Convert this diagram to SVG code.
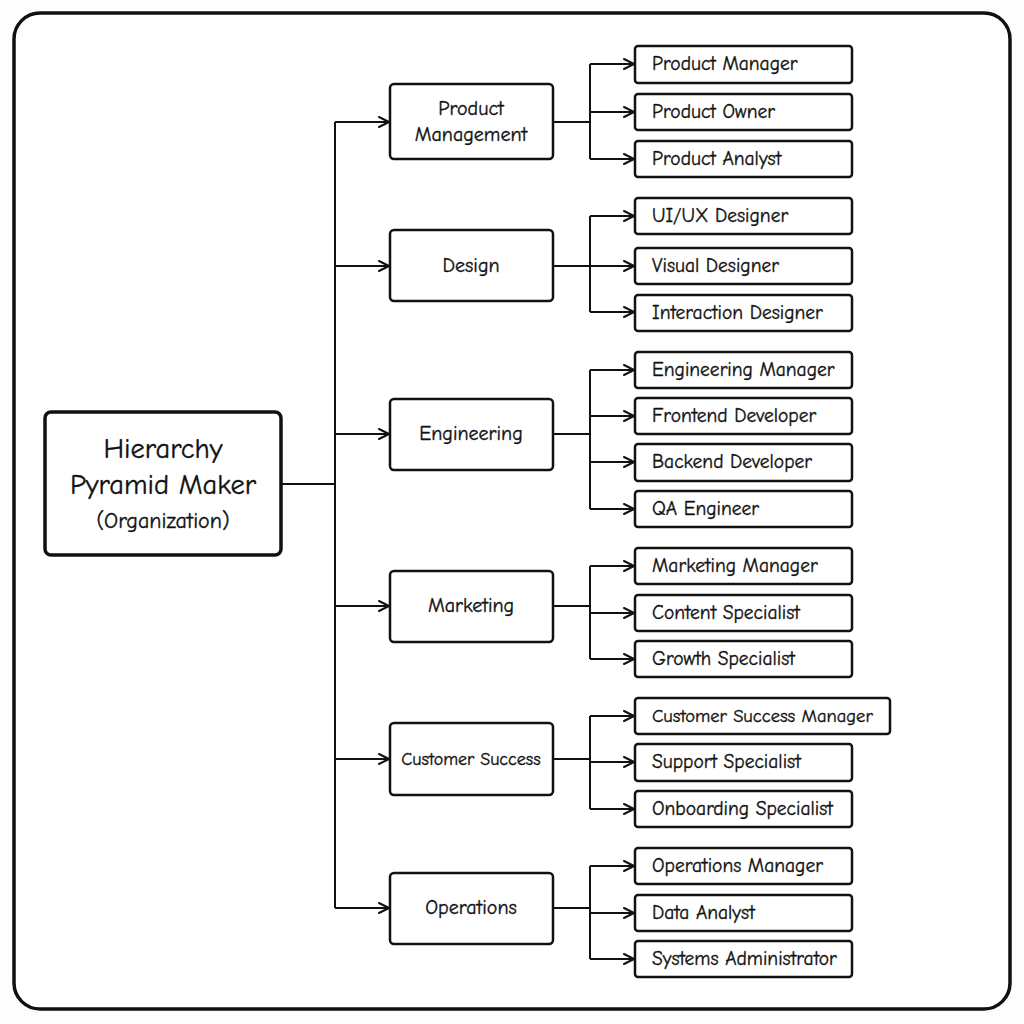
<svg xmlns="http://www.w3.org/2000/svg" width="1024" height="1024" viewBox="0 0 1024 1024">
<defs>
<marker id="arr" viewBox="0 0 12 12" refX="11" refY="6" markerWidth="12" markerHeight="12" markerUnits="userSpaceOnUse" orient="auto">
<path d="M1,1 L11,6 L1,11" fill="none" stroke="#111" stroke-width="2" stroke-linecap="round" stroke-linejoin="round"/>
</marker>
</defs>
<style>
.frame{fill:#fff;stroke:#111;stroke-width:3.5}
.box{fill:#fff;stroke:#111;stroke-width:2.5}
.root{fill:#fff;stroke:#111;stroke-width:3.5}
.ln{fill:none;stroke:#111;stroke-width:2}
.ar{fill:none;stroke:#111;stroke-width:2;marker-end:url(#arr)}
text{font-family:"Comic Neue","Noto Sans","Liberation Sans",sans-serif;fill:#111;stroke:#111;stroke-width:0.35}
.t{font-size:19.5px}
.d{font-size:20px;text-anchor:middle}
.r{font-size:28.5px;text-anchor:middle}
.rs{font-size:22px;text-anchor:middle}
</style>
<rect x="0" y="0" width="1024" height="1024" fill="#fdfdfd"/>
<rect class="frame" x="14" y="13" width="996" height="996" rx="26"/>

<g id="connectors">
<path class="ln" d="M281,484 H335 M335,122 V908"/>
<path class="ar" d="M335,122 H389"/>
<path class="ar" d="M335,266 H389"/>
<path class="ar" d="M335,434 H389"/>
<path class="ar" d="M335,606 H389"/>
<path class="ar" d="M335,759 H389"/>
<path class="ar" d="M335,908 H389"/>

<path class="ln" d="M553,122 H590 M590,64 V159"/>
<path class="ar" d="M590,64 H634"/><path class="ar" d="M590,112 H634"/><path class="ar" d="M590,159 H634"/>
<path class="ln" d="M553,266 H590 M590,216 V312"/>
<path class="ar" d="M590,216 H634"/><path class="ar" d="M590,266 H634"/><path class="ar" d="M590,312 H634"/>
<path class="ln" d="M553,434 H590 M590,370 V509"/>
<path class="ar" d="M590,370 H634"/><path class="ar" d="M590,416 H634"/><path class="ar" d="M590,462 H634"/><path class="ar" d="M590,509 H634"/>
<path class="ln" d="M553,606 H590 M590,566 V659"/>
<path class="ar" d="M590,566 H634"/><path class="ar" d="M590,613 H634"/><path class="ar" d="M590,659 H634"/>
<path class="ln" d="M553,759 H590 M590,716 V809"/>
<path class="ar" d="M590,716 H634"/><path class="ar" d="M590,762 H634"/><path class="ar" d="M590,809 H634"/>
<path class="ln" d="M553,908 H590 M590,866 V959"/>
<path class="ar" d="M590,866 H634"/><path class="ar" d="M590,913 H634"/><path class="ar" d="M590,959 H634"/>
</g>

<g id="root">
<rect class="root" x="45" y="412" width="236" height="143" rx="6"/>
<text class="r" x="163" y="458">Hierarchy</text>
<text class="r" x="163" y="494">Pyramid Maker</text>
<text class="rs" x="163" y="528">(Organization)</text>
</g>

<g id="dept-product"><rect class="box" x="390" y="84" width="163" height="75" rx="4"/><text class="d" x="471" y="115">Product</text><text class="d" x="471" y="141">Management</text></g>
<g id="dept-design"><rect class="box" x="390" y="230" width="163" height="71" rx="4"/><text class="d" x="471" y="272">Design</text></g>
<g id="dept-engineering"><rect class="box" x="390" y="399" width="163" height="71" rx="4"/><text class="d" x="471" y="440">Engineering</text></g>
<g id="dept-marketing"><rect class="box" x="390" y="571" width="163" height="71" rx="4"/><text class="d" x="471" y="612">Marketing</text></g>
<g id="dept-cs"><rect class="box" x="390" y="723" width="163" height="72" rx="4"/><text class="d" x="471" y="765" style="font-size:18px">Customer Success</text></g>
<g id="dept-operations"><rect class="box" x="390" y="873" width="163" height="71" rx="4"/><text class="d" x="471" y="914">Operations</text></g>

<g id="c1"><rect class="box" x="635" y="46" width="217" height="37" rx="3"/><text class="t" x="652" y="70">Product Manager</text></g>
<g id="c2"><rect class="box" x="635" y="94" width="217" height="36" rx="3"/><text class="t" x="652" y="118">Product Owner</text></g>
<g id="c3"><rect class="box" x="635" y="141" width="217" height="36" rx="3"/><text class="t" x="652" y="165">Product Analyst</text></g>
<g id="c4"><rect class="box" x="635" y="198" width="217" height="36" rx="3"/><text class="t" x="652" y="222">UI/UX Designer</text></g>
<g id="c5"><rect class="box" x="635" y="248" width="217" height="36" rx="3"/><text class="t" x="652" y="272">Visual Designer</text></g>
<g id="c6"><rect class="box" x="635" y="295" width="217" height="36" rx="3"/><text class="t" x="652" y="319">Interaction Designer</text></g>
<g id="c7"><rect class="box" x="635" y="352" width="217" height="36" rx="3"/><text class="t" x="652" y="376">Engineering Manager</text></g>
<g id="c8"><rect class="box" x="635" y="398" width="217" height="36" rx="3"/><text class="t" x="652" y="422">Frontend Developer</text></g>
<g id="c9"><rect class="box" x="635" y="444" width="217" height="37" rx="3"/><text class="t" x="652" y="468">Backend Developer</text></g>
<g id="c10"><rect class="box" x="635" y="491" width="217" height="36" rx="3"/><text class="t" x="652" y="515">QA Engineer</text></g>
<g id="c11"><rect class="box" x="635" y="548" width="217" height="36" rx="3"/><text class="t" x="652" y="572">Marketing Manager</text></g>
<g id="c12"><rect class="box" x="635" y="595" width="217" height="36" rx="3"/><text class="t" x="652" y="619">Content Specialist</text></g>
<g id="c13"><rect class="box" x="635" y="641" width="217" height="36" rx="3"/><text class="t" x="652" y="665">Growth Specialist</text></g>
<g id="c14"><rect class="box" x="635" y="698" width="255" height="36" rx="3"/><text class="t" x="652" y="722" style="font-size:18.5px">Customer Success Manager</text></g>
<g id="c15"><rect class="box" x="635" y="744" width="217" height="37" rx="3"/><text class="t" x="652" y="768">Support Specialist</text></g>
<g id="c16"><rect class="box" x="635" y="791" width="217" height="36" rx="3"/><text class="t" x="652" y="815">Onboarding Specialist</text></g>
<g id="c17"><rect class="box" x="635" y="848" width="217" height="36" rx="3"/><text class="t" x="652" y="872">Operations Manager</text></g>
<g id="c18"><rect class="box" x="635" y="895" width="217" height="36" rx="3"/><text class="t" x="652" y="919">Data Analyst</text></g>
<g id="c19"><rect class="box" x="635" y="941" width="217" height="36" rx="3"/><text class="t" x="652" y="965">Systems Administrator</text></g>
</svg>
